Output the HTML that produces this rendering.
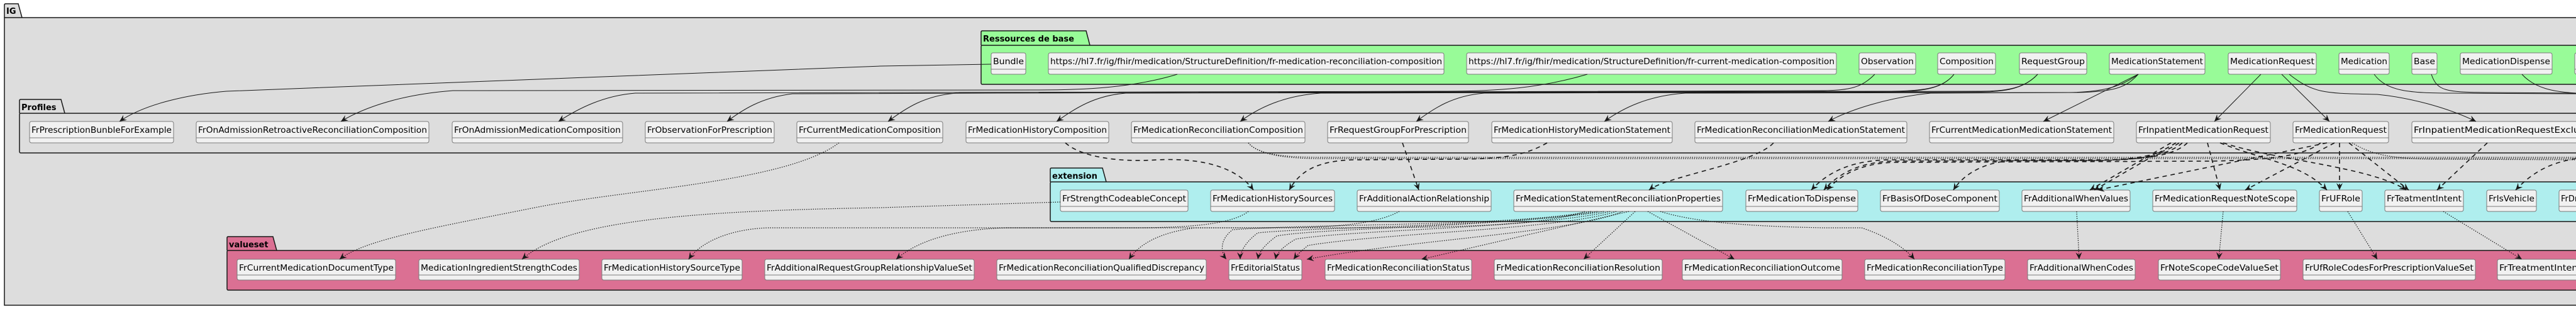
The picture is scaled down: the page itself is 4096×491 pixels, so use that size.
<!DOCTYPE html>
<html><head><meta charset="utf-8"><style>
html,body{margin:0;padding:0;background:#fff;}
svg{display:block;}
.bx rect{fill:#f1f1f1;stroke:#7a7a7a;stroke-width:1;}
.bx line{stroke:#7a7a7a;stroke-width:1;}
.bx text{font-family:"DejaVu Sans","Liberation Sans",sans-serif;font-size:13px;fill:#000;}
.pt{font-family:"DejaVu Sans","Liberation Sans",sans-serif;font-size:13px;font-weight:bold;fill:#000;}
.s{fill:none;stroke:#181818;stroke-width:1;}
.d{fill:none;stroke:#181818;stroke-width:1.6;stroke-dasharray:7,6;}
.o{fill:none;stroke:#181818;stroke-width:1.2;stroke-dasharray:1.5,2;}
</style></head><body>
<svg width="4096" height="491" viewBox="0 0 4096 491" xmlns="http://www.w3.org/2000/svg">
<defs>
<marker id="a" markerWidth="12" markerHeight="10" refX="11" refY="5" orient="auto" markerUnits="userSpaceOnUse">
<path d="M0,0 L11,5 L0,10 L4,5 Z" fill="#181818"/></marker>
</defs>
<!-- IG -->
<path d="M7,28 V8 Q7,6 9,6 H29 L35,28" fill="#dddddd" stroke="#181818" stroke-width="1.5"/>
<text class="pt" x="10" y="22" style="font-weight:bold">IG</text>
<rect x="7" y="28" width="4200" height="457" fill="#dddddd" stroke="#181818" stroke-width="1.5"/>
<!-- Ressources de base -->
<path d="M1560,72 V51 Q1560,49 1562,49 H1727 L1733,72" fill="#98fb98" stroke="#181818" stroke-width="1.5"/>
<text class="pt" x="1563" y="66">Ressources de base</text>
<rect x="1560" y="72" width="2700" height="62" rx="2" fill="#98fb98" stroke="#181818" stroke-width="1.5"/>
<!-- Profiles -->
<path d="M31,180 V160 Q31,158 33,158 H97 L103,180" fill="#dddddd" stroke="#181818" stroke-width="1.5"/>
<text class="pt" x="34" y="175">Profiles</text>
<rect x="31" y="180" width="4200" height="63" rx="2" fill="#dddddd" stroke="#181818" stroke-width="1.5"/>
<!-- extension -->
<path d="M1670,289 V269 Q1670,267 1672,267 H1753 L1759,289" fill="#afeeee" stroke="#181818" stroke-width="1.5"/>
<text class="pt" x="1673" y="284">extension</text>
<rect x="1670" y="289" width="2600" height="63" rx="2" fill="#afeeee" stroke="#181818" stroke-width="1.5"/>
<!-- valueset -->
<path d="M361,398 V378 Q361,376 363,376 H434 L440,398" fill="#db7093" stroke="#181818" stroke-width="1.5"/>
<text class="pt" x="364" y="393">valueset</text>
<rect x="361" y="398" width="3900" height="63" rx="2" fill="#db7093" stroke="#181818" stroke-width="1.5"/>

<!-- boxes green y=84 -->
<g class="bx">
<rect x="1576" y="84" width="55" height="34" rx="3"/><line x1="1576" y1="110" x2="1631" y2="110"/><text x="1579" y="102" textLength="49" lengthAdjust="spacingAndGlyphs">Bundle</text>
<rect x="1667" y="84" width="629" height="34" rx="3"/><line x1="1667" y1="110" x2="2296" y2="110"/><text x="1670" y="102" textLength="623" lengthAdjust="spacingAndGlyphs">https://hl7.fr/ig/fhir/medication/StructureDefinition/fr-medication-reconciliation-composition</text>
<rect x="2332" y="84" width="588" height="34" rx="3"/><line x1="2332" y1="110" x2="2920" y2="110"/><text x="2335" y="102" textLength="582" lengthAdjust="spacingAndGlyphs">https://hl7.fr/ig/fhir/medication/StructureDefinition/fr-current-medication-composition</text>
<rect x="2956" y="84" width="90" height="34" rx="3"/><line x1="2956" y1="110" x2="3046" y2="110"/><text x="2959" y="102" textLength="84" lengthAdjust="spacingAndGlyphs">Observation</text>
<rect x="3081" y="84" width="92" height="34" rx="3"/><line x1="3081" y1="110" x2="3173" y2="110"/><text x="3084" y="102" textLength="86" lengthAdjust="spacingAndGlyphs">Composition</text>
<rect x="3211" y="84" width="107" height="34" rx="3"/><line x1="3211" y1="110" x2="3318" y2="110"/><text x="3214" y="102" textLength="101" lengthAdjust="spacingAndGlyphs">RequestGroup</text>
<rect x="3354" y="84" width="152" height="34" rx="3"/><line x1="3354" y1="110" x2="3506" y2="110"/><text x="3357" y="102" textLength="146" lengthAdjust="spacingAndGlyphs">MedicationStatement</text>
<rect x="3543" y="84" width="140" height="34" rx="3"/><line x1="3543" y1="110" x2="3683" y2="110"/><text x="3546" y="102" textLength="134" lengthAdjust="spacingAndGlyphs">MedicationRequest</text>
<rect x="3719" y="84" width="80" height="34" rx="3"/><line x1="3719" y1="110" x2="3799" y2="110"/><text x="3722" y="102" textLength="74" lengthAdjust="spacingAndGlyphs">Medication</text>
<rect x="3835" y="84" width="40" height="34" rx="3"/><line x1="3835" y1="110" x2="3875" y2="110"/><text x="3838" y="102" textLength="34" lengthAdjust="spacingAndGlyphs">Base</text>
<rect x="3912" y="84" width="146" height="34" rx="3"/><line x1="3912" y1="110" x2="4058" y2="110"/><text x="3915" y="102" textLength="140" lengthAdjust="spacingAndGlyphs">MedicationDispense</text>
<rect x="4094" y="84" width="80" height="34" rx="3"/><line x1="4094" y1="110" x2="4174" y2="110"/><text x="4097" y="102">C</text>
</g>

<!-- profiles y=193 -->
<g class="bx">
<rect x="47" y="193" width="229" height="34" rx="3"/><line x1="47" y1="219" x2="276" y2="219"/><text x="50" y="211" textLength="223" lengthAdjust="spacingAndGlyphs">FrPrescriptionBunbleForExample</text>
<rect x="312" y="193" width="370" height="34" rx="3"/><line x1="312" y1="219" x2="682" y2="219"/><text x="315" y="211" textLength="364" lengthAdjust="spacingAndGlyphs">FrOnAdmissionRetroactiveReconciliationComposition</text>
<rect x="719" y="193" width="271" height="34" rx="3"/><line x1="719" y1="219" x2="990" y2="219"/><text x="722" y="211" textLength="265" lengthAdjust="spacingAndGlyphs">FrOnAdmissionMedicationComposition</text>
<rect x="1026" y="193" width="205" height="34" rx="3"/><line x1="1026" y1="219" x2="1231" y2="219"/><text x="1029" y="211" textLength="199" lengthAdjust="spacingAndGlyphs">FrObservationForPrescription</text>
<rect x="1267" y="193" width="232" height="34" rx="3"/><line x1="1267" y1="219" x2="1499" y2="219"/><text x="1270" y="211" textLength="226" lengthAdjust="spacingAndGlyphs">FrCurrentMedicationComposition</text>
<rect x="1536" y="193" width="227" height="34" rx="3"/><line x1="1536" y1="219" x2="1763" y2="219"/><text x="1539" y="211" textLength="221" lengthAdjust="spacingAndGlyphs">FrMedicationHistoryComposition</text>
<rect x="1799" y="193" width="276" height="34" rx="3"/><line x1="1799" y1="219" x2="2075" y2="219"/><text x="1802" y="211" textLength="270" lengthAdjust="spacingAndGlyphs">FrMedicationReconciliationComposition</text>
<rect x="2111" y="193" width="224" height="34" rx="3"/><line x1="2111" y1="219" x2="2335" y2="219"/><text x="2114" y="211" textLength="218" lengthAdjust="spacingAndGlyphs">FrRequestGroupForPrescription</text>
<rect x="2372" y="193" width="287" height="34" rx="3"/><line x1="2372" y1="219" x2="2659" y2="219"/><text x="2375" y="211" textLength="281" lengthAdjust="spacingAndGlyphs">FrMedicationHistoryMedicationStatement</text>
<rect x="2695" y="193" width="337" height="34" rx="3"/><line x1="2695" y1="219" x2="3032" y2="219"/><text x="2698" y="211" textLength="331" lengthAdjust="spacingAndGlyphs">FrMedicationReconciliationMedicationStatement</text>
<rect x="3068" y="193" width="293" height="34" rx="3"/><line x1="3068" y1="219" x2="3361" y2="219"/><text x="3071" y="211" textLength="287" lengthAdjust="spacingAndGlyphs">FrCurrentMedicationMedicationStatement</text>
<rect x="3397" y="193" width="213" height="34" rx="3"/><line x1="3397" y1="219" x2="3610" y2="219"/><text x="3400" y="211" textLength="207" lengthAdjust="spacingAndGlyphs">FrInpatientMedicationRequest</text>
<rect x="3646" y="193" width="152" height="34" rx="3"/><line x1="3646" y1="219" x2="3798" y2="219"/><text x="3649" y="211" textLength="146" lengthAdjust="spacingAndGlyphs">FrMedicationRequest</text>
<rect x="3835" y="193" width="300" height="34" rx="3"/><line x1="3835" y1="219" x2="4135" y2="219"/><text x="3838" y="211" textLength="294" lengthAdjust="spacingAndGlyphs">FrInpatientMedicationRequestExclusion</text>
</g>

<!-- extension y=302 -->
<g class="bx">
<rect x="1686" y="302" width="203" height="34" rx="3"/><line x1="1686" y1="328" x2="1889" y2="328"/><text x="1689" y="320" textLength="197" lengthAdjust="spacingAndGlyphs">FrStrengthCodeableConcept</text>
<rect x="1925" y="302" width="197" height="34" rx="3"/><line x1="1925" y1="328" x2="2122" y2="328"/><text x="1928" y="320" textLength="191" lengthAdjust="spacingAndGlyphs">FrMedicationHistorySources</text>
<rect x="2158" y="302" width="213" height="34" rx="3"/><line x1="2158" y1="328" x2="2371" y2="328"/><text x="2161" y="320" textLength="207" lengthAdjust="spacingAndGlyphs">FrAdditionalActionRelationship</text>
<rect x="2407" y="302" width="332" height="34" rx="3"/><line x1="2407" y1="328" x2="2739" y2="328"/><text x="2410" y="320" textLength="326" lengthAdjust="spacingAndGlyphs">FrMedicationStatementReconciliationProperties</text>
<rect x="2776" y="302" width="178" height="34" rx="3"/><line x1="2776" y1="328" x2="2954" y2="328"/><text x="2779" y="320" textLength="172" lengthAdjust="spacingAndGlyphs">FrMedicationToDispense</text>
<rect x="2990" y="302" width="189" height="34" rx="3"/><line x1="2990" y1="328" x2="3179" y2="328"/><text x="2993" y="320" textLength="183" lengthAdjust="spacingAndGlyphs">FrBasisOfDoseComponent</text>
<rect x="3215" y="302" width="172" height="34" rx="3"/><line x1="3215" y1="328" x2="3387" y2="328"/><text x="3218" y="320" textLength="166" lengthAdjust="spacingAndGlyphs">FrAdditionalWhenValues</text>
<rect x="3423" y="302" width="229" height="34" rx="3"/><line x1="3423" y1="328" x2="3652" y2="328"/><text x="3426" y="320" textLength="223" lengthAdjust="spacingAndGlyphs">FrMedicationRequestNoteScope</text>
<rect x="3688" y="302" width="68" height="34" rx="3"/><line x1="3688" y1="328" x2="3756" y2="328"/><text x="3691" y="320" textLength="62" lengthAdjust="spacingAndGlyphs">FrUFRole</text>
<rect x="3792" y="302" width="125" height="34" rx="3"/><line x1="3792" y1="328" x2="3917" y2="328"/><text x="3795" y="320" textLength="119" lengthAdjust="spacingAndGlyphs">FrTeatmentIntent</text>
<rect x="3954" y="302" width="79" height="34" rx="3"/><line x1="3954" y1="328" x2="4033" y2="328"/><text x="3957" y="320" textLength="73" lengthAdjust="spacingAndGlyphs">FrIsVehicle</text>
<rect x="4069" y="302" width="120" height="34" rx="3"/><line x1="4069" y1="328" x2="4189" y2="328"/><text x="4072" y="320">FrDrug</text>
</g>

<!-- valueset y=412 -->
<g class="bx">
<rect x="377" y="412" width="252" height="33" rx="3"/><line x1="377" y1="437" x2="629" y2="437"/><text x="380" y="430" textLength="246" lengthAdjust="spacingAndGlyphs">FrCurrentMedicationDocumentType</text>
<rect x="666" y="412" width="255" height="33" rx="3"/><line x1="666" y1="437" x2="921" y2="437"/><text x="669" y="430" textLength="249" lengthAdjust="spacingAndGlyphs">MedicationIngredientStrengthCodes</text>
<rect x="957" y="412" width="223" height="33" rx="3"/><line x1="957" y1="437" x2="1180" y2="437"/><text x="960" y="430" textLength="217" lengthAdjust="spacingAndGlyphs">FrMedicationHistorySourceType</text>
<rect x="1216" y="412" width="333" height="33" rx="3"/><line x1="1216" y1="437" x2="1549" y2="437"/><text x="1219" y="430" textLength="327" lengthAdjust="spacingAndGlyphs">FrAdditionalRequestGroupRelationshipValueSet</text>
<rect x="1585" y="412" width="333" height="33" rx="3"/><line x1="1585" y1="437" x2="1918" y2="437"/><text x="1588" y="430" textLength="327" lengthAdjust="spacingAndGlyphs">FrMedicationReconciliationQualifiedDiscrepancy</text>
<rect x="1954" y="412" width="116" height="33" rx="3"/><line x1="1954" y1="437" x2="2070" y2="437"/><text x="1957" y="430" textLength="110" lengthAdjust="spacingAndGlyphs">FrEditorialStatus</text>
<rect x="2107" y="412" width="233" height="33" rx="3"/><line x1="2107" y1="437" x2="2340" y2="437"/><text x="2110" y="430" textLength="227" lengthAdjust="spacingAndGlyphs">FrMedicationReconciliationStatus</text>
<rect x="2376" y="412" width="267" height="33" rx="3"/><line x1="2376" y1="437" x2="2643" y2="437"/><text x="2379" y="430" textLength="261" lengthAdjust="spacingAndGlyphs">FrMedicationReconciliationResolution</text>
<rect x="2675" y="412" width="254" height="33" rx="3"/><line x1="2675" y1="437" x2="2929" y2="437"/><text x="2678" y="430" textLength="248" lengthAdjust="spacingAndGlyphs">FrMedicationReconciliationOutcome</text>
<rect x="2965" y="412" width="223" height="33" rx="3"/><line x1="2965" y1="437" x2="3188" y2="437"/><text x="2968" y="430" textLength="217" lengthAdjust="spacingAndGlyphs">FrMedicationReconciliationType</text>
<rect x="3224" y="412" width="171" height="33" rx="3"/><line x1="3224" y1="437" x2="3395" y2="437"/><text x="3227" y="430" textLength="165" lengthAdjust="spacingAndGlyphs">FrAdditionalWhenCodes</text>
<rect x="3432" y="412" width="194" height="33" rx="3"/><line x1="3432" y1="437" x2="3626" y2="437"/><text x="3435" y="430" textLength="188" lengthAdjust="spacingAndGlyphs">FrNoteScopeCodeValueSet</text>
<rect x="3662" y="412" width="274" height="33" rx="3"/><line x1="3662" y1="437" x2="3936" y2="437"/><text x="3665" y="430" textLength="268" lengthAdjust="spacingAndGlyphs">FrUfRoleCodesForPrescriptionValueSet</text>
<rect x="3971" y="412" width="200" height="33" rx="3"/><line x1="3971" y1="437" x2="4171" y2="437"/><text x="3974" y="430" textLength="194" lengthAdjust="spacingAndGlyphs">FrTreatmentIntentValueSet</text>
</g>

<!-- solid edges -->
<g marker-end="url(#a)">
<path class="s" d="M1576,102 L1400,105 L360,145 C300,150 230,165 190,193"/>
<path class="s" d="M1872,118 C1800,140 1720,143 1650,143 L720,144 C640,150 580,170 542,193"/>
<path class="s" d="M2524,118 C2450,140 2380,145 2300,145 L1010,148 C960,152 920,172 888,193"/>
<path class="s" d="M2981,118 C2960,140 2940,143 2900,144 L1260,149 C1210,155 1180,175 1156,193"/>
<path class="s" d="M3107,118 C3090,140 3060,145 3000,145 L1520,148 C1470,152 1440,172 1412,193"/>
<path class="s" d="M3107,118 C3090,140 3060,146 3000,146 L1790,148 C1740,152 1710,172 1680,193"/>
<path class="s" d="M3240,118 C3220,140 3190,145 3150,145 L2100,148 C2040,152 2000,172 1972,193"/>
<path class="s" d="M3240,118 C3220,140 3190,146 3150,146 L2360,148 C2310,152 2280,172 2252,193"/>
<path class="s" d="M3400,118 C3380,140 3360,146 3300,147 L2680,148 C2620,152 2580,172 2551,193"/>
<path class="s" d="M3400,118 C3370,140 3340,146 3290,147 L3070,148 C3000,155 2940,175 2907,193"/>
<path class="s" d="M3400,118 L3249,193"/>
<path class="s" d="M3595,118 L3521,193"/>
<path class="s" d="M3628,118 L3704,193"/>
<path class="s" d="M3640,118 C3680,150 3700,148 3780,150 C3830,155 3890,170 3937,193"/>
</g>
<path class="s" d="M3775,118 C3795,145 3830,148 3900,148 L4096,149"/>
<path class="s" d="M3866,118 C3875,145 3890,146 3950,147 L4096,148"/>
<path class="s" d="M4010,118 C4030,140 4060,146 4096,148"/>

<!-- dashed edges -->
<g marker-end="url(#a)">
<path class="d" d="M1694,227 C1720,250 1780,258 1840,254 C1920,250 1970,270 1993,302"/>
<path class="d" d="M2460,227 C2420,250 2380,253 2300,253 L2150,254 C2090,256 2065,275 2050,302"/>
<path class="d" d="M2230,227 L2256,302"/>
<path class="d" d="M2820,227 C2790,260 2650,280 2622,302"/>
<path class="d" d="M3478,227 C3460,245 3420,253 3350,254 L3000,254 C2940,256 2905,275 2880,302"/>
<path class="d" d="M3470,227 C3450,245 3410,254 3340,255 L3010,256 C2950,258 2920,280 2900,302"/>
<path class="d" d="M3465,227 C3440,245 3400,254 3330,255 L3200,255 C3150,258 3120,280 3106,302"/>
<path class="d" d="M3460,227 L3330,302"/>
<path class="d" d="M3452,227 L3323,302"/>
<path class="d" d="M3510,227 L3530,302"/>
<path class="d" d="M3530,227 C3600,255 3660,260 3700,302"/>
<path class="d" d="M3535,227 C3620,255 3770,265 3826,302"/>
<path class="d" d="M3690,227 C3660,250 3600,254 3520,256 L3010,258 C2950,260 2920,285 2905,302"/>
<path class="d" d="M3700,227 L3335,302"/>
<path class="d" d="M3712,227 L3570,302"/>
<path class="d" d="M3720,227 L3720,302"/>
<path class="d" d="M3735,227 L3830,302"/>
<path class="d" d="M3955,227 L3875,302"/>
<path class="d" d="M4096,252 C4060,258 4030,270 4000,302"/>
</g>

<!-- dotted edges -->
<g marker-end="url(#a)">
<path class="o" d="M1334,227 C1250,290 1000,300 850,330 C700,360 580,380 540,412"/>
<path class="o" d="M1686,321 L1400,330 C1100,335 900,350 830,412"/>
<path class="o" d="M1985,336 C1960,355 1900,362 1800,362 L1220,362 C1150,365 1110,390 1095,412"/>
<path class="o" d="M2225,336 C2180,360 2100,362 2000,362 L1600,362 C1500,365 1450,390 1425,412"/>
<path class="o" d="M2520,336 C2450,360 2300,362 2100,362 L1900,362 C1840,370 1810,390 1795,412"/>
<path class="o" d="M2530,336 C2400,360 2100,355 1960,365 C1940,380 1940,400 1950,412"/>
<path class="o" d="M2540,336 C2400,360 2100,360 2000,370 C1980,385 1972,400 1972,412"/>
<path class="o" d="M2550,336 C2400,360 2100,362 2030,375 C2010,390 2002,400 2000,412"/>
<path class="o" d="M2560,336 C2450,362 2150,365 2060,380 C2040,392 2030,402 2028,412"/>
<path class="o" d="M2570,336 C2480,365 2200,370 2080,390 C2070,398 2062,405 2057,412"/>
<path class="o" d="M2580,336 C2500,370 2250,380 2078,412"/>
<path class="o" d="M2590,336 L2260,412"/>
<path class="o" d="M2600,336 L2518,412"/>
<path class="o" d="M2620,336 L2758,412"/>
<path class="o" d="M2640,336 C2700,355 2800,360 2900,362 L2960,362 C3000,375 3030,395 3044,412"/>
<path class="o" d="M3302,336 L3306,412"/>
<path class="o" d="M3535,336 L3528,412"/>
<path class="o" d="M3733,336 L3780,412"/>
<path class="o" d="M3885,336 L4010,412"/>
</g>
<path class="o" d="M1985,227 C2000,245 2040,252 2100,252 L4096,252"/>
<path class="o" d="M1985,227 C2000,245 2040,250 2100,250 L4096,250"/>
<path class="o" d="M3740,227 C3770,245 3800,253 3880,253 L4096,254"/>
</svg>
</body></html>
